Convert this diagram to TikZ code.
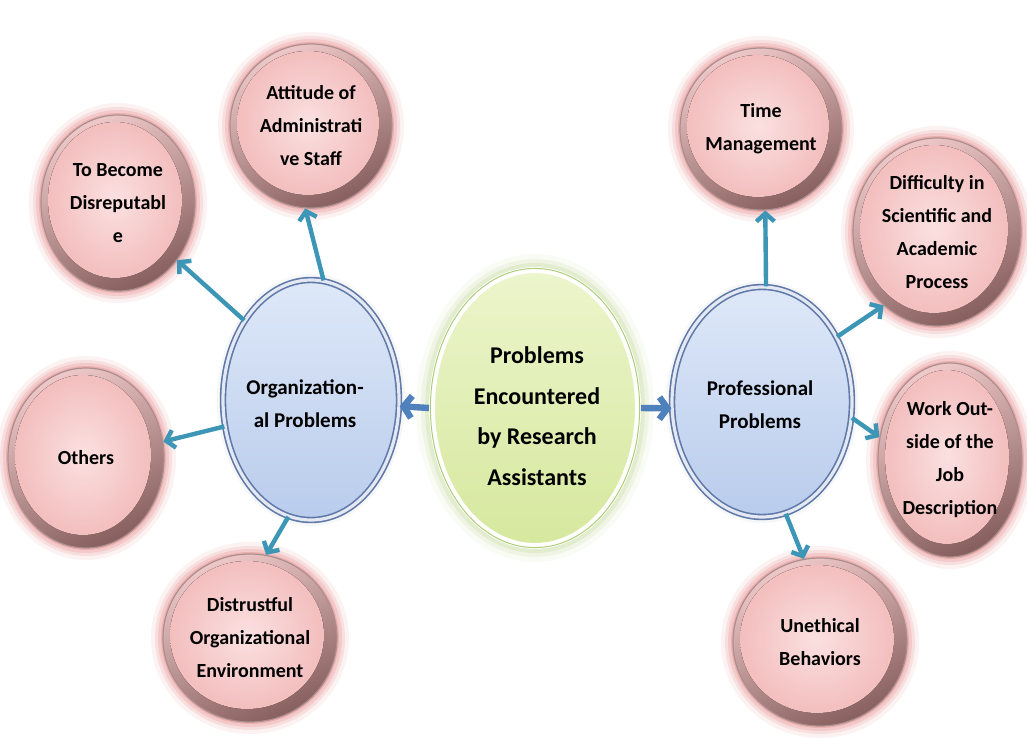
\documentclass[tikz,border=0pt]{standalone}
\usepackage{fontspec}
\setmainfont{Carlito}
\usetikzlibrary{arrows.meta,shapes.geometric}
\definecolor{arrteal}{RGB}{62,150,182}
\definecolor{arrblue}{RGB}{79,129,189}
\definecolor{pinkin}{RGB}{243,190,190}
\definecolor{pinklight}{RGB}{251,224,224}
\definecolor{rimdark}{RGB}{135,95,95}
\definecolor{rimlight}{RGB}{238,200,200}
\definecolor{glowred}{RGB}{220,90,90}
\definecolor{bluein}{RGB}{185,204,236}
\definecolor{bluelight}{RGB}{222,232,248}
\definecolor{blueline}{RGB}{95,120,168}
\definecolor{greenin}{RGB}{214,232,158}
\definecolor{greenlight}{RGB}{236,245,204}
\definecolor{greenglow}{RGB}{155,192,85}
\tikzset{
  pinkshape/.style={ellipse, inner sep=0pt, draw=rimdark!70, line width=0.6pt,
    top color=rimlight, bottom color=rimdark, shading angle=25},
  pinktext/.style={align=center, inner sep=0pt, text=black,
    font=\bfseries\fontsize{10}{16.5}\selectfont},
  blueshape/.style={ellipse, inner sep=0pt, draw=blueline, line width=0.8pt,
    double=bluelight!70!blueline!40, double distance=1.6pt,
    top color=bluelight, bottom color=bluein},
  bluetext/.style={align=center, inner sep=0pt, text=black,
    font=\bfseries\fontsize{10.5}{16.5}\selectfont},
  centershape/.style={ellipse, inner sep=0pt, draw=white, line width=3pt,
    top color=greenlight, bottom color=greenin},
  centertext/.style={align=center, inner sep=0pt, text=black,
    font=\bfseries\fontsize{12}{20.3}\selectfont},
  tealarrow/.style={arrteal, line width=2.2pt,
    -{Straight Barb[length=4pt,width=9pt]}},
  bluearrow/.style={arrblue, line width=3.2pt,
    -{Straight Barb[length=4pt,width=11pt]}}
}
\newcommand\pball[6]{%
  \foreach \g/\o in {12/0.08,8/0.12,5/0.16,2/0.22}{%
    \fill[glowred,opacity=\o] (#2,#3) ellipse [x radius={(#4+\g)*0.5pt}, y radius={(#5+\g)*0.5pt}];}
  \node[pinkshape, minimum width={#4*1pt}, minimum height={#5*1pt}] (#1) at (#2,#3) {};
  \fill[inner color=pinklight, outer color=pinkin] (#2-3,#3-3) ellipse [x radius={(#4-10)*0.5pt}, y radius={(#5-10)*0.5pt}];
  \node[pinktext] (#1-t) at (#2,#3) {#6};
}
\begin{document}
\begin{tikzpicture}[x=0.5pt,y=-0.5pt]
\fill[white] (0,0) rectangle (1027,738);
\useasboundingbox (0,0) rectangle (1027,738);

% centre
\foreach \g/\o in {16/0.06,11/0.1,7/0.15,3/0.25}{%
  \fill[greenglow,opacity=\o] (535,408) ellipse [x radius={(103+\g)*0.5pt}, y radius={(138+\g)*0.5pt}];}
\node[centershape, minimum width=103pt, minimum height=138pt] (ctr) at (535,408) {};
\draw[greenglow!80, line width=0.5pt] (535,408) ellipse [x radius=52.3pt, y radius=69.8pt];
\node[centertext] (ctr-t) at (537,416) {Problems\\Encountered\\by Research\\Assistants};

% blue circles
\foreach \g/\o in {6/0.06,3/0.1}{%
  \fill[blueline,opacity=\o] (311,400) ellipse [x radius={(88+\g)*0.5pt}, y radius={(120+\g)*0.5pt}];
  \fill[blueline,opacity=\o] (762,402) ellipse [x radius={(90+\g)*0.5pt}, y radius={(115+\g)*0.5pt}];}
\node[blueshape, minimum width=88pt, minimum height=120pt] (org) at (311,400) {};
\node[bluetext] (org-t) at (305,404) {Organization-\\al Problems};
\node[blueshape, minimum width=90pt, minimum height=115pt] (prof) at (762,402) {};
\node[bluetext] (prof-t) at (760,405) {Professional\\Problems};

% pink balls
\pball{att}{311}{126}{81}{82}{Attitude of\\Administrati\\ve Staff}
\pball{dis}{118}{203}{77}{88}{To Become\\Disreputabl\\e}
\pball{oth}{86}{458}{78}{90}{Others}
\pball{dst}{250}{638}{87}{84}{Distrustful\\Organizational\\Environment}
\pball{tim}{761}{129}{81}{81}{Time\\Management}
\pball{dif}{937}{232}{84}{94}{Difficulty in\\Scientific and\\Academic\\Process}
\pball{wrk}{950}{460}{72}{97}{Work Out-\\side of the\\Job\\Description}
\pball{une}{820}{642}{87}{84}{Unethical\\Behaviors}

% arrows
\draw[bluearrow] (ctr.west) -- (org.-4);
\draw[bluearrow] (ctr.east) -- (prof.184);
\draw[tealarrow] (org.84) -- (att.-94);
\draw[tealarrow] (org.130) -- (dis.-44);
\draw[tealarrow] (org.197) -- (oth.12);
\draw[tealarrow] (org.-101) -- (dst.79);
\draw[tealarrow] (prof.88) -- (tim.-87);
\draw[tealarrow] (prof.41) -- (dif.234);
\draw[tealarrow] (prof.-10) -- (wrk.162);
\draw[tealarrow] (prof.-78) -- (une.101);
\end{tikzpicture}
\end{document}
